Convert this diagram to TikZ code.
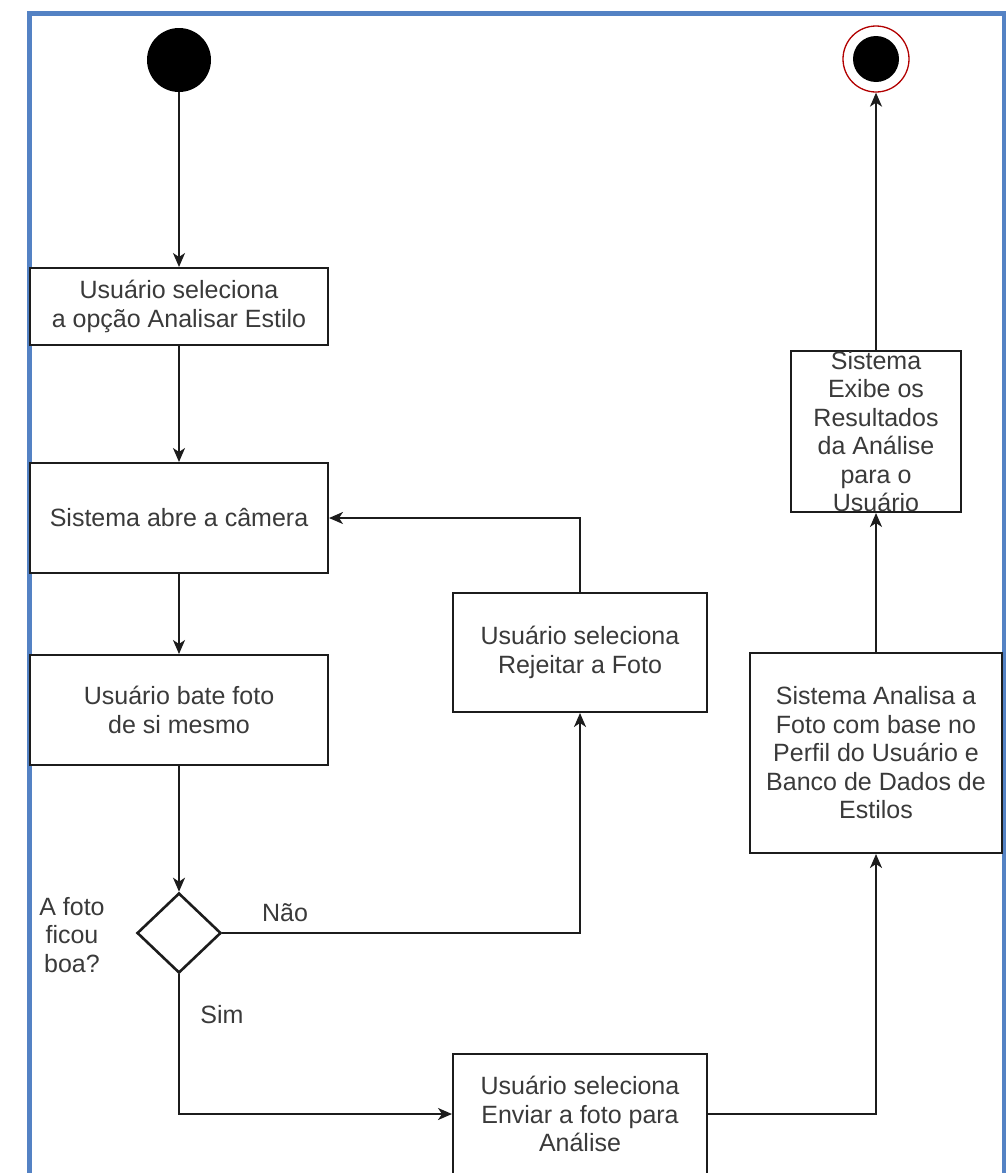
\documentclass[tikz,border=0pt]{standalone}
\usepackage{fontspec}
\setmainfont{Liberation Sans}
\usetikzlibrary{arrows.meta,shapes.geometric}
\definecolor{moldura}{RGB}{84,130,196}
\definecolor{traco}{RGB}{28,28,28}
\definecolor{texto}{RGB}{58,58,58}
\tikzset{
  every node/.append style={
    font=\fontsize{25}{28.5}\selectfont,text=texto
  },
  acao/.style={
    draw=traco,line width=2pt,fill=white,align=center,inner sep=0pt
  },
  decisao/.style={
    diamond,draw=traco,line width=2.6pt,fill=white,inner sep=0pt,
    aspect=1.05,minimum width=84pt,minimum height=80pt
  },
  inicial/.style={
    circle,fill=black,minimum size=64pt,inner sep=0pt
  },
  terminal/.style={
    circle,draw=red!70!black,line width=1.3pt,fill=white,minimum size=66pt,inner sep=0pt,
    path picture={\fill[black] (path picture bounding box.center) circle (23pt);}
  },
  rotulo/.style={align=center,inner sep=0pt},
  fluxo/.style={
    draw=traco,line width=2pt,-{Stealth[length=14pt,width=12pt,inset=4pt]}
  }
}
\begin{document}
\begin{tikzpicture}[x=1pt,y=-1pt]
\useasboundingbox (0,0) rectangle (1005,1173);
% moldura
\draw[moldura,line width=5pt] (29,1180) |- (1004,13) -- (1004,1180);

\node[inicial] (inicio) at (179,60) {};
\node[terminal] (fim) at (876,59) {};

\node[acao,minimum width=298pt,minimum height=77pt] (escolha) at (179,306.5) {Usuário seleciona\\a opção Analisar Estilo};
\node[acao,minimum width=298pt,minimum height=110pt] (camera) at (179,518) {Sistema abre a câmera};
\node[acao,minimum width=298pt,minimum height=110pt] (foto) at (179,710) {Usuário bate foto\\de si mesmo};
\node[decisao] (teste) at (179,933) {};
\node[rotulo] (pergunta) at (72,935) {A foto\\ficou\\boa?};
\node[rotulo] (nao) at (285,913) {Não};
\node[rotulo] (sim) at (222,1015) {Sim};

\node[acao,minimum width=254pt,minimum height=119pt] (rejeita) at (580,652.5) {Usuário seleciona\\Rejeitar a Foto};
\node[acao,minimum width=254pt,minimum height=120pt] (envia) at (580,1114) {Usuário seleciona\\Enviar a foto para\\Análise};
\node[acao,minimum width=252pt,minimum height=200pt] (analisa) at (876,753) {Sistema Analisa a\\Foto com base no\\Perfil do Usuário e\\Banco de Dados de\\Estilos};
% o texto passa da borda de cima
\node[acao,minimum width=170pt,minimum height=161pt,inner ysep=-10pt] (exibe) at (876,431.5) {Sistema\\Exibe os\\Resultados\\da Análise\\para o\\Usuário};

\draw[fluxo] (inicio) -- (escolha);
\draw[fluxo] (escolha) -- (camera);
\draw[fluxo] (camera) -- (foto);
\draw[fluxo] (foto) -- (teste);
\draw[fluxo] (teste.east) -| (rejeita.south);
\draw[fluxo] (rejeita.north) |- (camera.east);
\draw[fluxo] (teste.south) |- (envia.west);
\draw[fluxo] (envia.east) -| (analisa.south);
\draw[fluxo] (analisa) -- (exibe);
\draw[fluxo] (exibe) -- (fim);
\end{tikzpicture}
\end{document}
